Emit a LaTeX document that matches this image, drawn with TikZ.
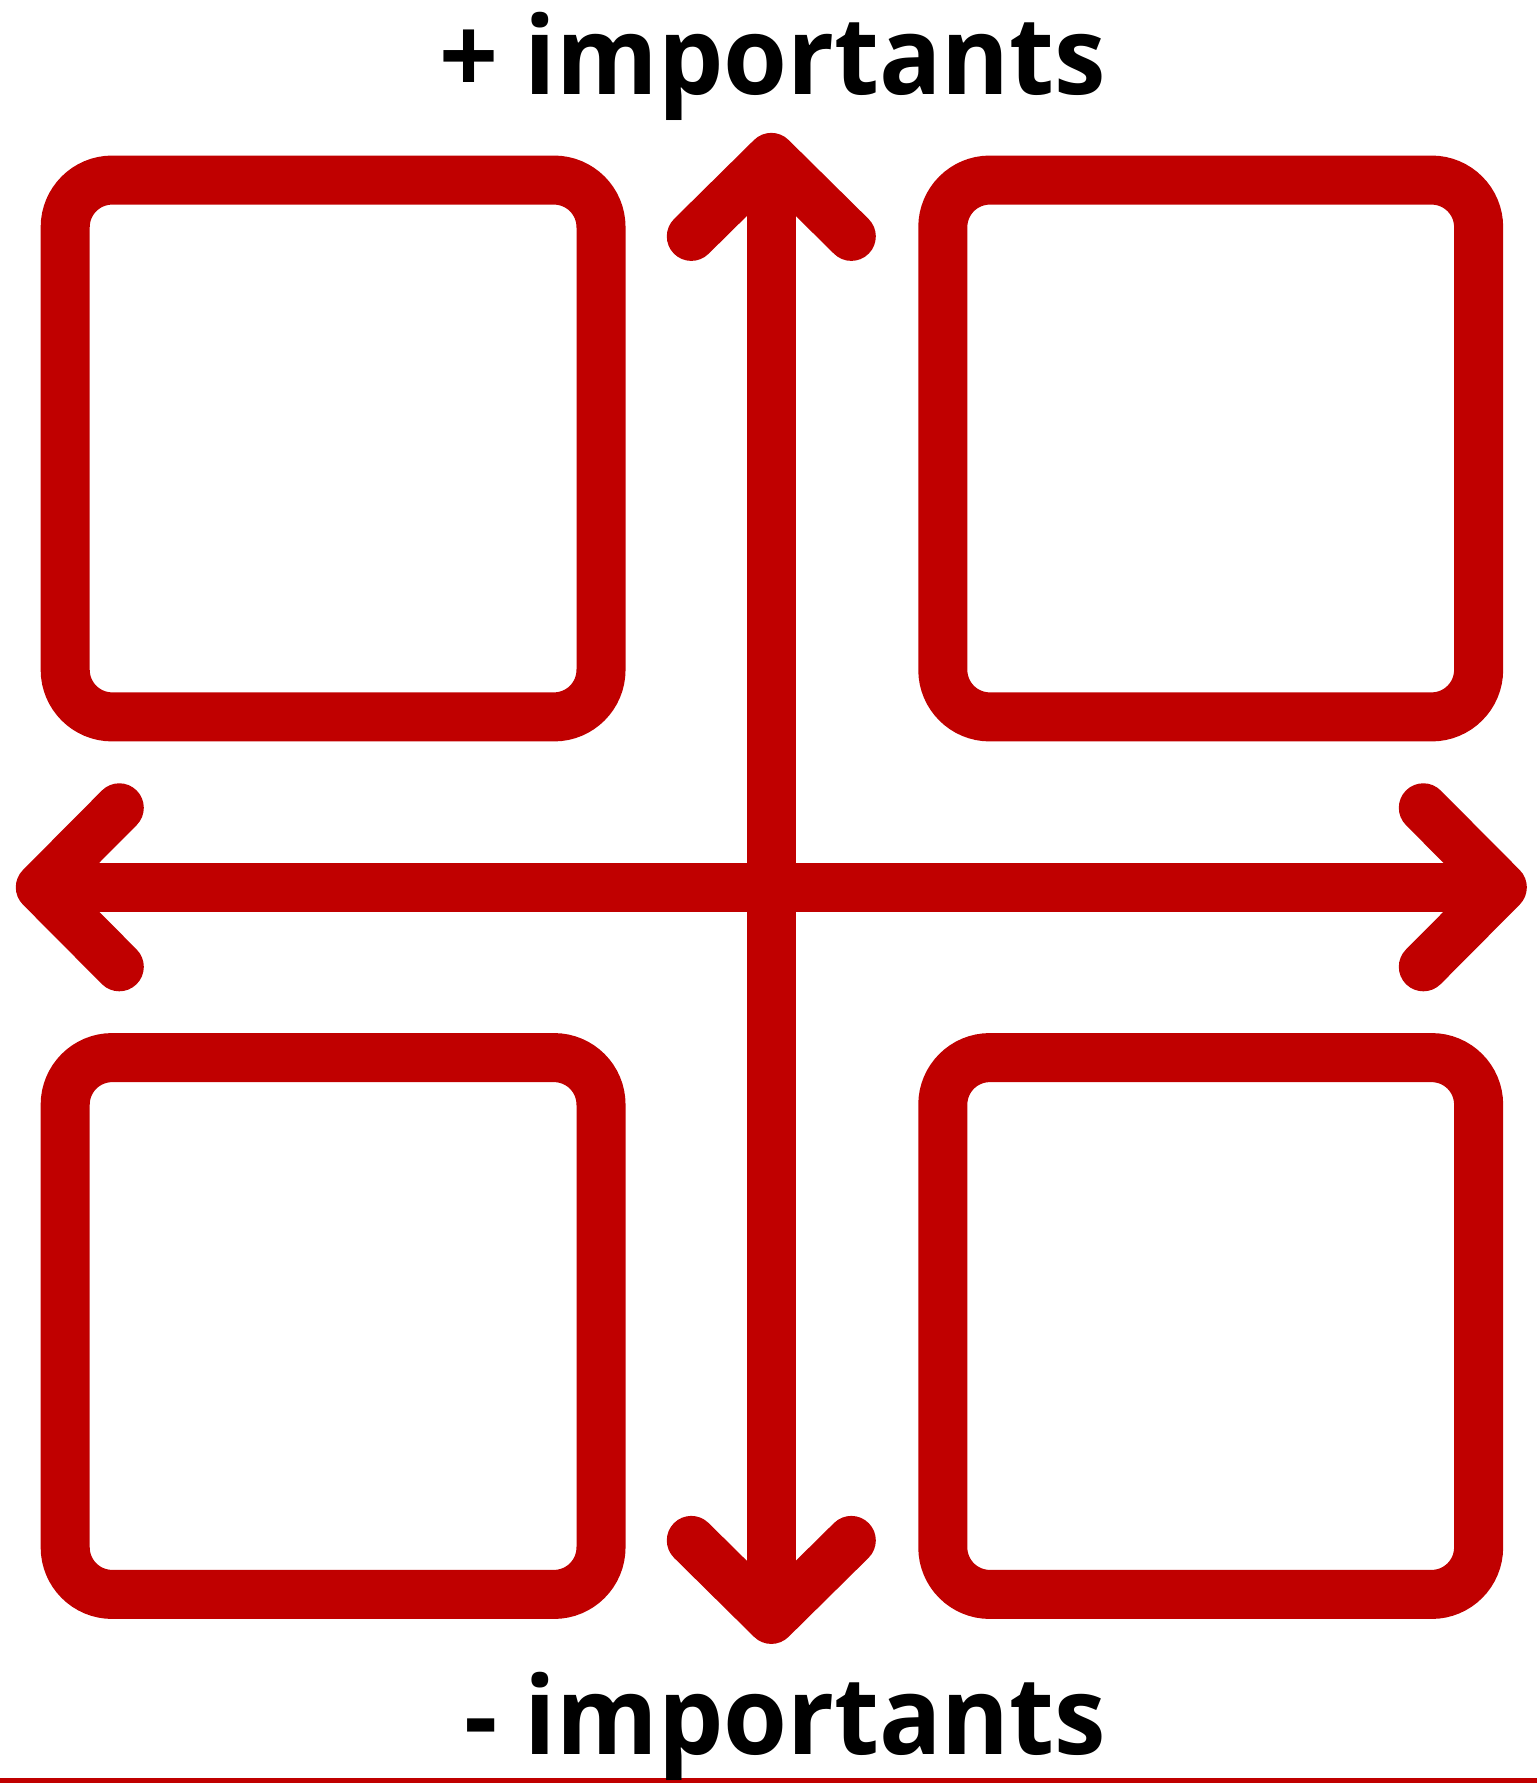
\documentclass[tikz,border=0pt]{standalone}
\usepackage{fontspec}
\setmainfont{Open Sans}
\newfontfamily\labelfont[FakeStretch=0.955]{Open Sans}
\usetikzlibrary{calc}
\definecolor{quadred}{RGB}{192,0,0}

\begin{document}
\begin{tikzpicture}[
    x=0.01cm,
    y=-0.01cm,
    quad/.style={
        rectangle,
        draw=quadred,
        line width=4.9mm,
        rounded corners=4.7mm,
        minimum width=5.355cm,
        minimum height=5.365cm,
        inner sep=0pt
    },
    axis/.style={
        draw=quadred,
        line width=4.9mm
    },
    chevron/.style={
        draw=quadred,
        line width=4.9mm,
        line cap=round,
        line join=round
    },
    label/.style={
        font=\labelfont\fontsize{30.8}{36}\selectfont\bfseries,
        anchor=base east,
        inner sep=0pt
    }
]
    \useasboundingbox (0,0) rectangle (1537,1783);

    % four quadrants
    \node [quad] (q1) at (333.1,448.5) {};
    \node [quad] (q2) at (1210.7,448.5) {};
    \node [quad] (q3) at (333.1,1326) {};
    \node [quad] (q4) at (1210.7,1326) {};

    % arrow tips
    \coordinate (top) at (771.3,157.4);
    \coordinate (bottom) at (771.3,1619.4);
    \coordinate (left) at (40.3,887.3);
    \coordinate (right) at (1502.3,887.3);

    \draw [axis] (top) -- (bottom);
    \draw [axis] (left) -- (right);
    \draw [chevron] ($(top)+(-80,79)$) -- (top) -- ($(top)+(80,79)$);
    \draw [chevron] ($(bottom)+(-80,-79)$) -- (bottom) -- ($(bottom)+(80,-79)$);
    \draw [chevron] ($(left)+(79,-79.5)$) -- (left) -- ($(left)+(79,79.5)$);
    \draw [chevron] ($(right)+(-79,-79.5)$) -- (right) -- ($(right)+(-79,79.5)$);

    \draw [quadred, line width=0.5mm] (0,1780.5) -- (1537,1780.5);

    \node [label] (plus) at (1107,94.4) {+ importants};
    \node [label] (minus) at (1107,1754) {- importants};
\end{tikzpicture}
\end{document}
